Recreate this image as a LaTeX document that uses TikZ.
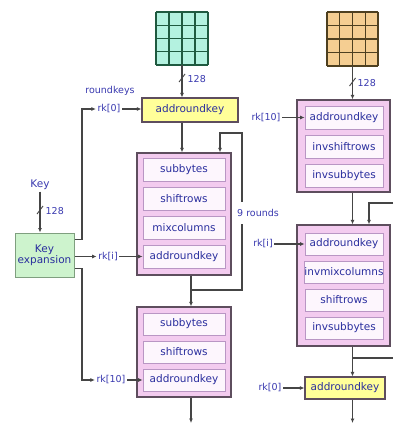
\documentclass[tikz,border=0pt]{standalone}
\usepackage{fontspec}
\setmainfont{DejaVu Sans}
\usetikzlibrary{arrows.meta,calc}

\definecolor{pinkfill}{HTML}{F3CBEF}
\definecolor{pinkedge}{HTML}{5E4E5E}
\definecolor{cellfill}{HTML}{FDF6FD}
\definecolor{celledge}{HTML}{B996C4}
\definecolor{txtblue}{HTML}{2A2E9E}
\definecolor{lblblue}{HTML}{3A3AB0}
\definecolor{yelfill}{HTML}{FFFF99}
\definecolor{grnfill}{HTML}{CDF3CD}
\definecolor{grnedge}{HTML}{7F9F7F}
\definecolor{tealfill}{HTML}{B4F2E0}
\definecolor{tealline}{HTML}{1F5A40}
\definecolor{orgfill}{HTML}{F5CE92}
\definecolor{orgline}{HTML}{4E4020}
\definecolor{wire}{HTML}{454545}

\begin{document}
\begin{tikzpicture}[x=1pt,y=-1pt,
  font=\fontsize{10.5}{12}\selectfont,
  roundblk/.style={draw=pinkedge, line width=1.4pt, fill=pinkfill, inner sep=0pt},
  cell/.style={draw=celledge, line width=0.8pt, fill=cellfill, text=txtblue,
               inner sep=0pt, minimum width=82, minimum height=23},
  rcell/.style={cell, minimum width=78},
  keybox/.style={draw=pinkedge, line width=1.2pt, fill=yelfill, text=txtblue, inner sep=0pt},
  expbox/.style={draw=grnedge, line width=1pt, fill=grnfill, text=txtblue, inner sep=0pt,
                 align=center},
  lbl/.style={text=lblblue, inner sep=1.5pt, font=\fontsize{9.5}{10}\selectfont},
  wire/.style={draw=wire, line width=1.1pt},
  feed/.style={wire, -{Latex[length=4.5pt,width=4pt]}},
  bus/.style={draw=wire, line width=0.9pt}
]
\useasboundingbox (0,0) rectangle (393,425);
\fill[white] (0,0) rectangle (393,425);

% ---------- state matrices ----------
\node[fill=tealfill, minimum width=52, minimum height=53, inner sep=0pt] (ptxt) at (182,38.5) {};
\foreach \x in {156,169,182,195,208}
  \draw[tealline, line width=1.4pt] (\x,12) -- (\x,65);
\foreach \y in {12,25.25,38.5,51.75,65}
  \draw[tealline, line width=1.4pt] (156,\y) -- (208,\y);

\node[fill=orgfill, minimum width=51, minimum height=54, inner sep=0pt] (ctxt) at (352.5,39) {};
\foreach \x in {327,339.75,352.5,365.25,378}
  \draw[orgline, line width=1.4pt] (\x,12) -- (\x,66);
\foreach \y in {12,25.5,39,52.5,66}
  \draw[orgline, line width=1.4pt] (327,\y) -- (378,\y);

% ---------- encryption path ----------
\node[keybox, minimum width=96, minimum height=24] (ark1) at (190,110) {addroundkey};

\node[roundblk, minimum width=94, minimum height=122] (b1) at (184,214) {};
\node[cell] (b1s) at (184,169.5) {subbytes};
\node[cell] (b1r) at (184,198.5) {shiftrows};
\node[cell] (b1m) at (184,227.5) {mixcolumns};
\node[cell] (b1a) at (184,256.5) {addroundkey};

\node[roundblk, minimum width=94, minimum height=90] (b2) at (184,352) {};
\node[cell, minimum height=22] (b2s) at (184,324) {subbytes};
\node[cell, minimum height=22] (b2r) at (184,352) {shiftrows};
\node[cell, minimum height=22] (b2a) at (184,380) {addroundkey};

% ---------- key schedule ----------
\node[lbl, font=\fontsize{10.5}{12}\selectfont] (key) at (40,185) {Key};
\node[expbox, minimum width=59, minimum height=44] (kexp) at (44.5,255) {Key\\[-1pt]expansion};
\node[lbl] (rkeys) at (110,91) {roundkeys};
\node[lbl] (rk0) at (109,109) {rk[0]};
\node[lbl] (rki1) at (108,256.5) {rk[i]};
\node[lbl] (rk10a) at (111,380) {rk[10]};

% ---------- decryption path ----------
\node[roundblk, minimum width=93, minimum height=92] (b3) at (343.5,146) {};
\node[rcell] (b3a) at (344,117.5) {addroundkey};
\node[rcell] (b3r) at (344,146.5) {invshiftrows};
\node[rcell] (b3s) at (344,175.5) {invsubbytes};

\node[roundblk, minimum width=93, minimum height=121] (b4) at (343.5,285.5) {};
\node[rcell, minimum height=22] (b4a) at (344,244) {addroundkey};
\node[rcell, minimum height=22] (b4m) at (344,272) {invmixcolumns};
\node[rcell, minimum height=22] (b4r) at (344,300) {shiftrows};
\node[rcell, minimum height=22] (b4s) at (344,328) {invsubbytes};

\node[keybox, minimum width=80, minimum height=22] (ark2) at (345,388) {addroundkey};

\node[lbl] (rk10b) at (266,117.5) {rk[10]};
\node[lbl] (rki2) at (263,244) {rk[i]};
\node[lbl] (rk0b) at (270,388) {rk[0]};

% ---------- helper points ----------
\coordinate (tap1) at (191,290);
\coordinate (lp1) at (242,133);
\coordinate (ret1) at (220,133);
\coordinate (out1) at (191,423);
\coordinate (busT) at (82,109);
\coordinate (busB) at (82,380);
\coordinate (rin) at (393,203);
\coordinate (rin2) at (369,203);
\coordinate (tap4) at (352.5,358);
\coordinate (rout) at (393,358);
\coordinate (out2) at (352.5,423);

% ---------- encryption wiring ----------
\draw[feed] (ptxt.south) -- (ark1.north -| ptxt.south);
\draw[bus] (179,82) -- (185,74);
\node[lbl, anchor=west] (w1) at (186,79) {128};
\draw[feed] (ark1.south -| ptxt.south) -- (b1.north -| ptxt.south);
\draw[feed] (b1.south -| tap1) -- (b2.north -| tap1);
\draw[feed] (tap1) -| (lp1) -- (ret1) -- (b1.north -| ret1);
\node[lbl, fill=white, inner ysep=7pt] (nr) at (258,213) {9 rounds};
\draw[feed] (b2.south -| tap1) -- (out1);

% ---------- key wiring ----------
\draw[feed] (key.south) -- (kexp.north -| key.south);
\draw[bus] (37,214) -- (43,206);
\node[lbl, anchor=west] (w2) at (44,211) {128};
\draw[feed] ($(kexp.north east)+(0,7)$) -| (busT) -- (rk0.west);
\draw[feed] (rk0.east) -- (ark1.west |- rk0.east);
\draw[feed] (kexp.east |- rki1.west) -- (rki1.west);
\draw[feed] (rki1.east) -- (b1a.west);
\draw[feed] ($(kexp.south east)+(0,-9)$) -| (busB) -- (rk10a.west);
\draw[feed] (rk10a.east) -- (b2a.west);

% ---------- decryption wiring ----------
\draw[feed] (ctxt.south) -- (b3.north -| ctxt.south);
\draw[bus] (349.5,86) -- (355.5,78);
\node[lbl, anchor=west] (w3) at (356,83) {128};
\draw[feed] (rk10b.east) -- (b3a.west);
\draw[feed] (b3.south -| ctxt.south) -- (b4.north -| ctxt.south);
\draw[feed] (rin) -- (rin2) -- (b4.north -| rin2);
\draw[feed] (rki2.east) -- (b4a.west);
\draw[feed] (b4.south -| ctxt.south) -- (ark2.north -| ctxt.south);
\draw[wire] (tap4) -- (rout);
\draw[feed] (rk0b.east) -- (ark2.west);
\draw[feed] (ark2.south -| ctxt.south) -- (out2);
\end{tikzpicture}
\end{document}
